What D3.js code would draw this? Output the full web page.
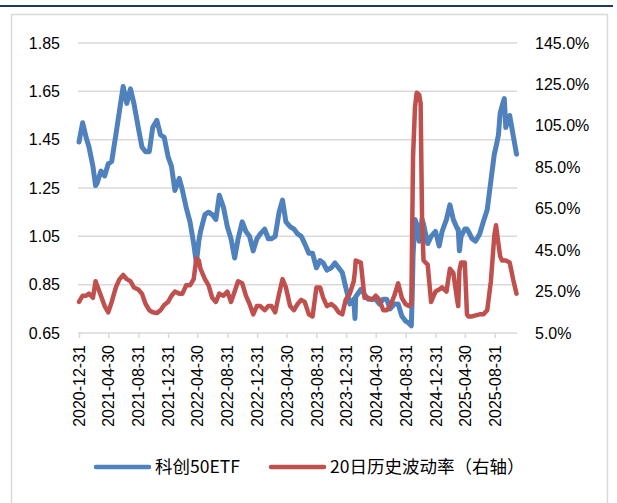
<!DOCTYPE html>
<html>
<head>
<meta charset="utf-8">
<script src="https://cdn.jsdelivr.net/npm/d3@7"></script>
<style>
  body { margin: 0; background: #fff; }
  text { font-family: "Liberation Sans", Arial, sans-serif; fill: #000; }
  .legend text { font-family: "Noto Sans CJK SC", sans-serif; }
</style>
</head>
<body>
<svg id="chart" width="617" height="503"></svg>
<script>
// data
const dates = [
  "2020-12-31","2021-01-15","2021-01-29","2021-02-10","2021-02-26","2021-03-09","2021-03-15","2021-03-31",
  "2021-04-15","2021-04-30","2021-05-14","2021-05-31","2021-06-15","2021-06-30","2021-07-15","2021-07-30",
  "2021-08-13","2021-08-31","2021-09-15","2021-09-30","2021-10-15","2021-10-29","2021-11-15","2021-11-30",
  "2021-12-15","2021-12-31","2022-01-14","2022-01-28","2022-02-15","2022-02-28","2022-03-15","2022-03-31",
  "2022-04-15","2022-04-26","2022-05-06","2022-05-13","2022-05-31","2022-06-15","2022-06-30","2022-07-15",
  "2022-07-29","2022-08-15","2022-08-31","2022-09-15","2022-09-30","2022-10-14","2022-10-31","2022-11-15",
  "2022-11-30","2022-12-15","2022-12-30","2023-01-13","2023-01-31","2023-02-15","2023-02-28","2023-03-15",
  "2023-03-31","2023-04-14","2023-04-28","2023-05-15","2023-05-31","2023-06-15","2023-06-30","2023-07-14",
  "2023-07-31","2023-08-15","2023-08-31","2023-09-15","2023-09-28","2023-10-13","2023-10-31","2023-11-15",
  "2023-11-30","2023-12-15","2023-12-29","2024-01-15","2024-01-31","2024-02-05","2024-02-08","2024-02-29",
  "2024-03-08","2024-03-15","2024-03-29","2024-04-15","2024-04-30","2024-05-15","2024-05-31","2024-06-14",
  "2024-06-28","2024-07-15","2024-07-31","2024-08-15","2024-08-30","2024-09-13","2024-09-23","2024-09-27",
  "2024-09-30","2024-10-08","2024-10-15","2024-10-25","2024-10-31","2024-11-06","2024-11-12","2024-11-29",
  "2024-12-13","2024-12-31","2025-01-15","2025-01-27","2025-02-14","2025-02-28","2025-03-14","2025-03-31",
  "2025-04-03","2025-04-08","2025-04-15","2025-04-30","2025-05-09","2025-05-15","2025-05-30","2025-06-13",
  "2025-06-30","2025-07-15","2025-07-31","2025-08-15","2025-08-29","2025-09-05","2025-09-15","2025-09-22",
  "2025-09-30","2025-10-09","2025-10-15","2025-10-31","2025-11-14","2025-11-28"
];

// 科创50ETF price (left axis)
const etfValues = [
  1.44,1.52,1.46,1.42,1.34,1.26,1.27,1.32,
  1.30,1.35,1.36,1.47,1.57,1.67,1.60,1.66,
  1.60,1.50,1.42,1.40,1.40,1.50,1.53,1.47,
  1.46,1.38,1.34,1.24,1.29,1.24,1.17,1.11,
  1.02,0.94,1.03,1.07,1.14,1.15,1.14,1.12,
  1.22,1.17,1.09,1.04,0.96,1.04,1.11,1.07,
  1.05,0.99,1.04,1.06,1.08,1.04,1.04,1.05,
  1.15,1.20,1.11,1.09,1.08,1.06,1.05,1.02,
  0.98,0.98,0.92,0.95,0.94,0.91,0.92,0.94,
  0.92,0.90,0.84,0.77,0.79,0.71,0.80,0.83,
  0.82,0.81,0.79,0.79,0.79,0.77,0.79,0.79,
  0.75,0.77,0.77,0.72,0.70,0.69,0.68,0.82,
  0.97,1.12,1.10,1.03,1.07,1.12,1.10,1.02,
  1.05,1.07,1.01,1.07,1.12,1.18,1.12,1.08,
  1.08,0.99,1.05,1.08,1.08,1.07,1.04,1.03,
  1.06,1.11,1.16,1.28,1.39,1.42,1.47,1.56,
  1.59,1.62,1.50,1.55,1.47,1.39
];

// 20-day historical volatility, % (right axis)
const volValues = [
  20,23,23,24,22,30,28,23,
  18,15,20,27,31,33,31,30,
  27,26,24,19,16,15,14.6,16,
  18.5,20,23,25,24,24,28,28,
  31,41,40,36,31,28,22,20,
  24,23,25,20,25,30,29,23,
  19,14,18,18,16,18,18,15,
  24,31,27,18,16,19,21,20,
  14,13,27,27,22,18,19,17.6,
  15,14,21,24,30,35,40,39,
  30,22,22,21,23,21,16,16,
  18,23,29,22,19,18,19,60,
  90,114,121,120,116,60,40,38,
  20,25,26,27,25,36,34,20,
  18,35,39,39,14,13,13,13.5,
  14,14,16,30,52,57,48,42,
  40,40,40,39,31,24
];

const tickLabels = [
  "2020-12-31","2021-04-30","2021-08-31","2021-12-31","2022-04-30","2022-08-31","2022-12-31",
  "2023-04-30","2023-08-31","2023-12-31","2024-04-30","2024-08-31","2024-12-31","2025-04-30","2025-08-31"
];
const leftTicks = [0.65, 0.85, 1.05, 1.25, 1.45, 1.65, 1.85];
const rightTicks = [5, 25, 45, 65, 85, 105, 125, 145];
const seriesNames = ["科创50ETF", "20日历史波动率（右轴）"];

const PLOT = { left: 79, right: 517, top: 43, bottom: 333 };
const BLUE = "#4f81bd";
const RED = "#c0504d";
const GRID = "#d9d9d9";

const parse = d3.timeParse("%Y-%m-%d");
const data = dates.map((d, i) => ({ date: parse(d), etf: etfValues[i], vol: volValues[i] }));

const svg = d3.select("#chart");

// frame
svg.append("line")
  .attr("x1", 0).attr("x2", 613).attr("y1", 6).attr("y2", 6)
  .attr("stroke", "#1f3864").attr("stroke-width", 2);
svg.append("rect")
  .attr("x", 11.5).attr("y", 14.5).attr("width", 596).attr("height", 500)
  .attr("fill", "none").attr("stroke", GRID).attr("stroke-width", 1.5);

const x = d3.scaleTime()
  .domain([parse("2020-12-31"), parse("2025-11-30")])
  .range([PLOT.left, PLOT.right]);
const yLeft = d3.scaleLinear().domain([0.65, 1.85]).range([PLOT.bottom, PLOT.top]);
const yRight = d3.scaleLinear().domain([5, 145]).range([PLOT.bottom, PLOT.top]);

// gridlines
svg.append("g")
  .selectAll("line")
  .data(leftTicks.slice(1))
  .join("line")
  .attr("x1", PLOT.left - 1).attr("x2", PLOT.right)
  .attr("y1", d => yLeft(d)).attr("y2", d => yLeft(d))
  .attr("stroke", GRID).attr("stroke-width", 1.5);

// left axis labels
svg.append("g")
  .selectAll("text")
  .data(leftTicks)
  .join("text")
  .attr("x", 60)
  .attr("y", d => yLeft(d))
  .attr("dy", "0.35em")
  .attr("text-anchor", "end")
  .attr("font-size", 16)
  .text(d => d.toFixed(2));

// right axis labels
svg.append("g")
  .selectAll("text")
  .data(rightTicks)
  .join("text")
  .attr("x", 535)
  .attr("y", d => yRight(d))
  .attr("dy", "0.35em")
  .attr("font-size", 16)
  .text(d => d.toFixed(1) + "%");

// x axis
const xAxis = d3.axisBottom(x)
  .tickValues(tickLabels.map(parse))
  .tickSize(5)
  .tickSizeOuter(0)
  .tickFormat(d3.timeFormat("%Y-%m-%d"));

const gx = svg.append("g")
  .attr("transform", `translate(0,${PLOT.bottom})`)
  .call(xAxis);
gx.select(".domain")
  .attr("stroke", GRID).attr("stroke-width", 1.5)
  .attr("d", `M${PLOT.left - 1},0H${PLOT.right}`);
gx.selectAll(".tick line").attr("stroke", GRID).attr("stroke-width", 1.5);
gx.selectAll(".tick text")
  .attr("font-family", "'Liberation Sans', Arial, sans-serif")
  .attr("font-size", 16)
  .attr("fill", "#000")
  .attr("transform", "rotate(-90)")
  .attr("text-anchor", "end")
  .attr("x", -12)
  .attr("y", 0)
  .attr("dy", "0.35em");

// lines
const etfLine = d3.line().x(d => x(d.date)).y(d => yLeft(d.etf));
const volLine = d3.line().x(d => x(d.date)).y(d => yRight(d.vol));

svg.append("path")
  .datum(data)
  .attr("d", etfLine)
  .attr("fill", "none")
  .attr("stroke", BLUE)
  .attr("stroke-width", 5)
  .attr("stroke-linejoin", "round")
  .attr("stroke-linecap", "round");

svg.append("path")
  .datum(data)
  .attr("d", volLine)
  .attr("fill", "none")
  .attr("stroke", RED)
  .attr("stroke-width", 4.5)
  .attr("stroke-linejoin", "round")
  .attr("stroke-linecap", "round");

// legend
const legend = svg.append("g").attr("class", "legend");
const legendItems = [
  { name: seriesNames[0], color: BLUE, x: 96 },
  { name: seriesNames[1], color: RED, x: 271 }
];
legendItems.forEach(item => {
  legend.append("line")
    .attr("x1", item.x).attr("x2", item.x + 53)
    .attr("y1", 467).attr("y2", 467)
    .attr("stroke", item.color).attr("stroke-width", 4.5)
    .attr("stroke-linecap", "round");
  legend.append("text")
    .attr("x", item.x + 59)
    .attr("y", 467)
    .attr("dy", "0.36em")
    .attr("font-size", 17.5)
    .text(item.name);
});
</script>
</body>
</html>
